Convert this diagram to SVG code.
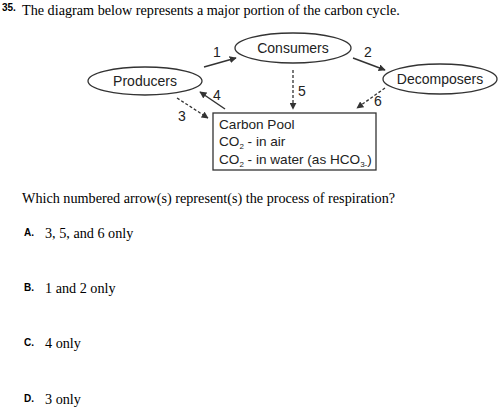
<svg xmlns="http://www.w3.org/2000/svg" width="500" height="411" viewBox="0 0 500 411">
<style>
.serif{font-family:"Liberation Serif","Times New Roman",serif;font-size:14.2px;fill:#000}
.lbl{font-family:"Liberation Sans",Arial,sans-serif;font-size:14px;fill:#222}
.box{font-family:"Liberation Sans",Arial,sans-serif;font-size:13.6px;fill:#222}
.num{font-family:"Liberation Sans",Arial,sans-serif;font-size:14px;fill:#222}
.qn{font-family:"Liberation Sans",Arial,sans-serif;font-size:10px;font-weight:bold;fill:#000}
.node{fill:#fff;stroke:#333;stroke-width:1.3}
.solid{stroke:#333;stroke-width:1.5;fill:none}
.dash{stroke:#333;stroke-width:1.3;fill:none;stroke-dasharray:3 2}
</style>
<defs>
<marker id="ah" viewBox="0 0 10 10" refX="9" refY="5" markerWidth="7" markerHeight="7" markerUnits="userSpaceOnUse" orient="auto">
<path d="M0,0 L10,5 L0,10 z" fill="#333"/>
</marker>
</defs>
<text class="qn" x="2" y="11">35.</text>
<text class="serif" x="22" y="15">The diagram below represents a major portion of the carbon cycle.</text>

<g id="consumers">
<ellipse class="node" cx="293" cy="48" rx="58" ry="15"/>
<text class="lbl" x="293" y="53" text-anchor="middle">Consumers</text>
</g>
<g id="producers">
<ellipse class="node" cx="145" cy="81" rx="57" ry="14"/>
<text class="lbl" x="145" y="86" text-anchor="middle">Producers</text>
</g>
<g id="decomposers">
<ellipse class="node" cx="440" cy="79" rx="57" ry="15"/>
<text class="lbl" x="440" y="84" text-anchor="middle">Decomposers</text>
</g>
<g id="carbon-pool">
<rect class="node" x="213" y="113" width="163" height="57"/>
<text class="box" x="219" y="129">Carbon Pool</text>
<text class="box" x="219" y="146">CO<tspan font-size="8" dy="3">2</tspan><tspan dy="-3"> - in air</tspan></text>
<text class="box" x="219" y="164">CO<tspan font-size="8" dy="3">2</tspan><tspan dy="-3"> - in water (as HCO</tspan><tspan font-size="8" dy="3">3-</tspan><tspan dy="-3">)</tspan></text>
</g>

<g id="connectors">
<line class="solid" x1="204" y1="67" x2="236" y2="58" marker-end="url(#ah)"/>
<text class="num" x="213" y="57">1</text>
<line class="solid" x1="353" y1="58" x2="385" y2="70" marker-end="url(#ah)"/>
<text class="num" x="364" y="57">2</text>
<line class="dash" x1="293" y1="70" x2="293" y2="109" marker-end="url(#ah)"/>
<text class="num" x="298" y="96">5</text>
<line class="dash" x1="385" y1="88" x2="357" y2="108" marker-end="url(#ah)"/>
<text class="num" x="374" y="106">6</text>
<line class="solid" x1="225" y1="109" x2="200" y2="92" marker-end="url(#ah)"/>
<text class="num" x="213" y="100">4</text>
<line class="dash" x1="177" y1="98" x2="208" y2="118" marker-end="url(#ah)"/>
<text class="num" x="178" y="121">3</text>
</g>

<text class="serif" x="22" y="203">Which numbered arrow(s) represent(s) the process of respiration?</text>
<text class="qn" x="24" y="236">A.</text>
<text class="serif" x="45" y="238">3, 5, and 6 only</text>
<text class="qn" x="24" y="291">B.</text>
<text class="serif" x="45" y="293">1 and 2 only</text>
<text class="qn" x="24" y="346">C.</text>
<text class="serif" x="45" y="348">4 only</text>
<text class="qn" x="24" y="402">D.</text>
<text class="serif" x="45" y="404">3 only</text>
</svg>
